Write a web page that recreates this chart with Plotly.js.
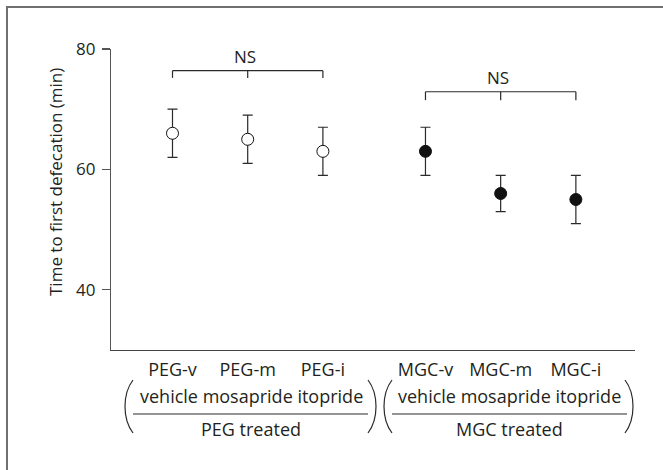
<!DOCTYPE html>
<html>
<head>
<meta charset="utf-8">
<script src="https://cdn.plot.ly/plotly-3.0.1.min.js"></script>
<style>
  html, body { margin: 0; padding: 0; background: #fff; }
  #chart { width: 663px; height: 470px; }
</style>
</head>
<body>
<div id="chart"></div>
<script>
// ---- data ----
var categories = ['PEG-v', 'PEG-m', 'PEG-i', 'MGC-v', 'MGC-m', 'MGC-i'];
var groups = ['PEG', 'PEG', 'PEG', 'MGC', 'MGC', 'MGC'];
var meanTime = [66, 65, 63, 63, 56, 55];
var errTime = [4, 4, 4, 4, 3, 4];
var drugLabel = 'vehicle mosapride itopride';
var groupLabels = ['PEG treated', 'MGC treated'];
var yTicks = [40, 60, 80];
var sigLabel = 'NS';

// ---- layout geometry ----
var W = 663, H = 470;
var M = {l: 111, r: 28, t: 49, b: 120};
var PW = W - M.l - M.r, PH = H - M.t - M.b;
function px(x) { return (x - M.l) / PW; }
function py(y) { return 1 - (y - M.t) / PH; }

var groupGap = 0.364;
var groupNames = ['PEG', 'MGC'];
var xpos = categories.map(function (c, i) {
  return i + groupNames.indexOf(groups[i]) * groupGap;
});

var FONT = '"Open Sans", sans-serif';
var TXT = '#231f20';
var INK = '#2a2a2a';

var openIdx = [], fillIdx = [];
groups.forEach(function (g, i) { (g === 'PEG' ? openIdx : fillIdx).push(i); });
function pick(arr, idx) { return idx.map(function (i) { return arr[i]; }); }

function trace(idx, fill) {
  return {
    type: 'scatter', mode: 'markers',
    x: pick(xpos, idx), y: pick(meanTime, idx),
    error_y: {type: 'data', array: pick(errTime, idx), visible: true,
              color: INK, thickness: 1.2, width: 5},
    marker: {symbol: 'circle', size: 12, color: fill ? '#111111' : '#ffffff',
             line: {color: '#111111', width: 1}},
    hoverinfo: 'skip', showlegend: false, cliponaxis: false
  };
}

var shapes = [];
var annotations = [];

// frame (left and top lines only, rest runs off the picture)
shapes.push({type: 'line', xref: 'paper', yref: 'paper',
  x0: px(7), x1: px(W + 5), y0: py(7), y1: py(7),
  line: {color: '#707070', width: 2}});
shapes.push({type: 'line', xref: 'paper', yref: 'paper',
  x0: px(7), x1: px(7), y0: py(6), y1: py(H + 5),
  line: {color: '#707070', width: 2}});

// significance brackets
var brackets = [
  {idx: [0, 1, 2], yLine: 76.4, yTick: 75.2, yText: 78.75},
  {idx: [3, 4, 5], yLine: 72.9, yTick: 71.5, yText: 75.3}
];
brackets.forEach(function (b) {
  var xs = b.idx.map(function (i) { return xpos[i]; });
  shapes.push({type: 'line', xref: 'x', yref: 'y', x0: xs[0], x1: xs[2],
    y0: b.yLine, y1: b.yLine, line: {color: INK, width: 1.2}});
  xs.forEach(function (x) {
    shapes.push({type: 'line', xref: 'x', yref: 'y', x0: x, x1: x,
      y0: b.yLine, y1: b.yTick, line: {color: INK, width: 1.2}});
  });
  annotations.push({xref: 'x', yref: 'y', x: xs[1] - 0.04, y: b.yText, text: sigLabel,
    showarrow: false, xanchor: 'center', yanchor: 'middle',
    font: {family: FONT, size: 17, color: TXT}});
});

// group labels below axis: drug names, fraction line, group name, parentheses
var groupBoxes = [
  {cx: 251, x0: 133, x1: 368, pl: [133, 125], pr: [368, 376]},
  {cx: 509.5, x0: 392, x1: 627, pl: [392, 384], pr: [625, 633]}
];
groupBoxes.forEach(function (g, k) {
  annotations.push({xref: 'paper', yref: 'paper', x: px(g.cx), y: py(396),
    text: drugLabel, showarrow: false, xanchor: 'center', yanchor: 'middle',
    font: {family: FONT, size: 18, color: TXT}});
  annotations.push({xref: 'paper', yref: 'paper', x: px(g.cx), y: py(429),
    text: groupLabels[k], showarrow: false, xanchor: 'center', yanchor: 'middle',
    font: {family: FONT, size: 18, color: TXT}});
  shapes.push({type: 'line', xref: 'paper', yref: 'paper',
    x0: px(g.x0), x1: px(g.x1), y0: py(414), y1: py(414),
    line: {color: INK, width: 1.2}});
  var top = 380, bot = 433;
  var inL = g.pl[0], outL = g.pl[1];
  var cL = (4 * outL - inL) / 3;
  shapes.push({type: 'path', xref: 'paper', yref: 'paper',
    path: 'M ' + px(inL) + ',' + py(top) + ' C ' + px(cL) + ',' + py(top + 14) + ' ' +
          px(cL) + ',' + py(bot - 14) + ' ' + px(inL) + ',' + py(bot),
    line: {color: INK, width: 1.2}});
  var inR = g.pr[0], outR = g.pr[1];
  var cR = (4 * outR - inR) / 3;
  shapes.push({type: 'path', xref: 'paper', yref: 'paper',
    path: 'M ' + px(inR) + ',' + py(top) + ' C ' + px(cR) + ',' + py(top + 14) + ' ' +
          px(cR) + ',' + py(bot - 14) + ' ' + px(inR) + ',' + py(bot),
    line: {color: INK, width: 1.2}});
});

// y-axis title as rotated annotation
annotations.push({xref: 'paper', yref: 'paper', x: px(55), y: py(182),
  text: 'Time to first defecation (min)', textangle: -90, showarrow: false,
  xanchor: 'center', yanchor: 'middle',
  font: {family: FONT, size: 17, color: TXT}});

var xr0 = (M.l - 172.5) / 75.2, xr1 = (W - M.r - 172.5) / 75.2;

var layout = {
  width: W, height: H,
  margin: M,
  paper_bgcolor: '#ffffff', plot_bgcolor: '#ffffff',
  showlegend: false,
  xaxis: {range: [xr0, xr1], showgrid: false, zeroline: false,
    showline: true, linecolor: '#444444', linewidth: 1.2,
    tickmode: 'array', tickvals: xpos, ticktext: categories, ticks: '',
    ticklabelstandoff: 3,
    tickfont: {family: FONT, size: 18, color: TXT}, fixedrange: true},
  yaxis: {range: [30, 80], showgrid: false, zeroline: false,
    showline: true, linecolor: '#555555', linewidth: 1.2,
    tickmode: 'array', tickvals: yTicks, ticks: 'outside', ticklen: 8,
    tickcolor: '#555555', tickwidth: 1.2, ticklabelstandoff: 3,
    tickfont: {family: FONT, size: 17, color: TXT}, fixedrange: true},
  shapes: shapes,
  annotations: annotations
};

Plotly.newPlot('chart', [trace(openIdx, false), trace(fillIdx, true)], layout,
  {displayModeBar: false, staticPlot: true});
</script>
</body>
</html>
